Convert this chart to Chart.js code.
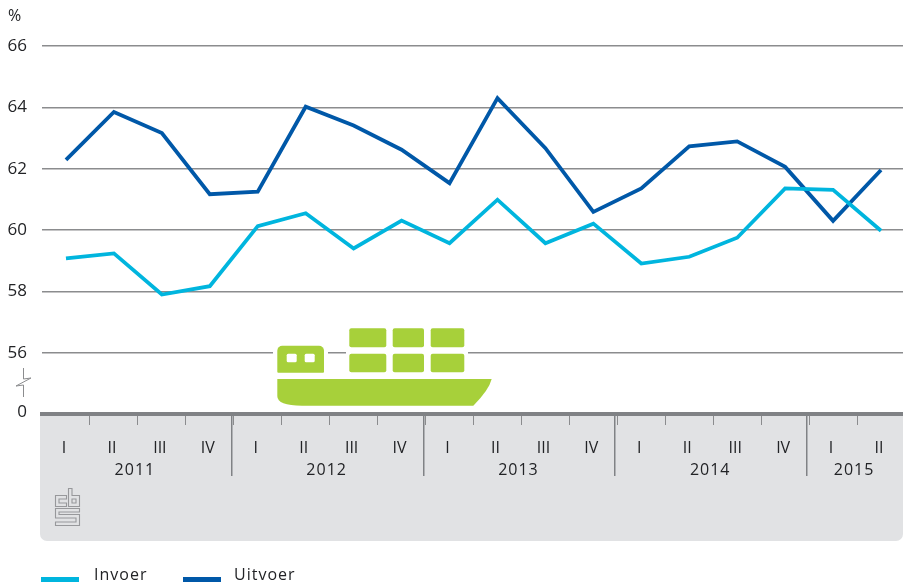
<!DOCTYPE html>
<html>
<head>
<meta charset="utf-8">
<title>Invoer en uitvoer</title>
<script src="https://cdn.jsdelivr.net/npm/chart.js@4"></script>
<style>
html, body { margin: 0; padding: 0; background: #fff; overflow: hidden; }
#wrap { position: relative; width: 905px; height: 582px; }
</style>
</head>
<body>
<div id="wrap"><canvas id="chart"></canvas></div>
<script>
const quarters = ['I','II','III','IV','I','II','III','IV','I','II','III','IV','I','II','III','IV','I','II'];
const years = ['2011','2012','2013','2014','2015'];
const quartersPerYear = [4,4,4,4,2];
const invoer = [59.08,59.24,57.90,58.17,60.13,60.55,59.40,60.31,59.57,60.99,59.57,60.21,58.91,59.13,59.75,61.36,61.31,59.98];
const uitvoer = [62.29,63.85,63.16,61.17,61.25,64.02,63.41,62.62,61.53,64.30,62.67,60.59,61.36,62.73,62.89,62.06,60.30,61.96];
const yTicks = [66,64,62,60,58,56];
const yFloor = 54.07; // value where the broken axis lands, shown as 0

const INK = '#222326', GRID = '#8b8c8e', BAND = '#e1e2e4', AXIS = '#808285', SHIP = '#a7d03a';
const FONT = '16px "Open Sans", sans-serif';

function roundBox(ctx, x0, y0, x1, y1, r) {
  ctx.beginPath();
  ctx.roundRect(x0, y0, x1 - x0, y1 - y0, r);
  ctx.fill();
}

function drawText(ctx, txt, x, y, align) {
  ctx.font = FONT;
  ctx.letterSpacing = '1px';
  ctx.fillStyle = INK;
  ctx.textAlign = align || 'left';
  ctx.textBaseline = 'middle';
  ctx.fillText(txt, x, y);
  ctx.letterSpacing = '0px';
}

function drawBand(ctx, chart) {
  ctx.save();
  ctx.fillStyle = BAND;
  ctx.beginPath();
  ctx.roundRect(40, 412, 863, 129, [0, 0, 7, 7]);
  ctx.fill();
  ctx.restore();
}

function drawAxis(ctx, chart) {
  const x = chart.scales.x;
  ctx.save();
  ctx.fillStyle = AXIS;
  ctx.fillRect(40, 412, 863, 4);
  // year separators and year names
  let start = 0;
  const half = (x.getPixelForValue(1) - x.getPixelForValue(0)) / 2;
  years.forEach(function(year, i) {
    const end = start + quartersPerYear[i] - 1;
    const mid = (x.getPixelForValue(start) + x.getPixelForValue(end)) / 2;
    drawText(ctx, year, mid - 3, 470, 'center');
    if (i < years.length - 1) {
      ctx.fillStyle = AXIS;
      ctx.fillRect(Math.round(x.getPixelForValue(end) + half) - 3, 416, 1.5, 60);
    }
    start = end + 1;
  });
  ctx.restore();
}

function drawBreak(ctx) {
  ctx.save();
  ctx.strokeStyle = GRID;
  ctx.lineWidth = 1;
  ctx.beginPath();
  ctx.moveTo(23.5, 368); ctx.lineTo(23.5, 379);
  ctx.lineTo(31, 378); ctx.lineTo(16, 386); ctx.lineTo(23.5, 385);
  ctx.lineTo(23.5, 397);
  ctx.stroke();
  ctx.restore();
}

function drawShip(ctx) {
  ctx.save();
  // white cut-outs over the 56 gridline
  ctx.fillStyle = '#fff';
  ctx.fillRect(273, 345, 55, 20);
  ctx.fillRect(346, 345, 122, 20);
  ctx.fillStyle = SHIP;
  roundBox(ctx, 277.3, 345.7, 324, 372.7, [5, 5, 1, 1]);
  [[349.3,386.3],[392.7,424],[430.7,464.3]].forEach(function(c) {
    roundBox(ctx, c[0], 328.3, c[1], 347.3, 2);
    roundBox(ctx, c[0], 353.7, c[1], 372.3, 2);
  });
  ctx.beginPath();
  ctx.moveTo(277.3, 379);
  ctx.lineTo(491.7, 379);
  ctx.quadraticCurveTo(489, 390, 473.3, 405.7);
  ctx.lineTo(302, 405.7);
  ctx.quadraticCurveTo(277.3, 405.7, 277.3, 396);
  ctx.closePath();
  ctx.fill();
  ctx.fillStyle = '#fff';
  roundBox(ctx, 286.7, 353.7, 296.7, 362.3, 1.5);
  roundBox(ctx, 304.7, 353.7, 314.7, 362.3, 1.5);
  ctx.restore();
}

function drawLogo(ctx) {
  ctx.save();
  ctx.translate(55, 488);
  ctx.strokeStyle = '#97989b';
  ctx.lineWidth = 1.1;
  ctx.lineJoin = 'miter';
  ctx.beginPath();
  // c
  ctx.moveTo(11.5, 7.5); ctx.lineTo(0.5, 7.5); ctx.lineTo(0.5, 18.5); ctx.lineTo(11.5, 18.5);
  ctx.lineTo(11.5, 15); ctx.lineTo(4, 15); ctx.lineTo(4, 11); ctx.lineTo(11.5, 11); ctx.closePath();
  // b
  ctx.moveTo(13.5, 0.5); ctx.lineTo(17, 0.5); ctx.lineTo(17, 7.5); ctx.lineTo(24.5, 7.5);
  ctx.lineTo(24.5, 18.5); ctx.lineTo(13.5, 18.5); ctx.closePath();
  ctx.rect(17, 11, 4, 4);
  // s
  ctx.moveTo(0.5, 20.5); ctx.lineTo(24.5, 20.5); ctx.lineTo(24.5, 24); ctx.lineTo(4, 24);
  ctx.lineTo(4, 26.5); ctx.lineTo(24.5, 26.5); ctx.lineTo(24.5, 37.5); ctx.lineTo(0.5, 37.5);
  ctx.lineTo(0.5, 34); ctx.lineTo(21, 34); ctx.lineTo(21, 30); ctx.lineTo(0.5, 30); ctx.closePath();
  ctx.stroke();
  ctx.restore();
}

function drawLegend(ctx, chart) {
  const spots = [{ box: 41, text: 94 }, { box: 183, text: 234 }];
  ctx.save();
  chart.data.datasets.forEach(function(ds, i) {
    ctx.fillStyle = ds.borderColor;
    ctx.fillRect(spots[i].box, 577, 38, 5);
    drawText(ctx, ds.label, spots[i].text, 575, 'left');
  });
  ctx.restore();
}

const decorations = {
  id: 'decorations',
  beforeDraw: function(chart) { drawBand(chart.ctx, chart); },
  beforeDatasetsDraw: function(chart) {
    const ctx = chart.ctx;
    drawBreak(ctx);
    drawAxis(ctx, chart);
    drawShip(ctx);
    drawLogo(ctx);
    drawLegend(ctx, chart);
    ctx.save();
    drawText(ctx, '%', 8, 16, 'left');
    ctx.restore();
  }
};

new Chart(document.getElementById('chart').getContext('2d'), {
  type: 'line',
  data: {
    labels: quarters,
    datasets: [
      { label: 'Invoer', data: invoer, borderColor: '#00b5de', borderWidth: 3.8, pointRadius: 0, tension: 0, borderJoinStyle: 'miter', borderCapStyle: 'butt' },
      { label: 'Uitvoer', data: uitvoer, borderColor: '#0058a8', borderWidth: 3.8, pointRadius: 0, tension: 0, borderJoinStyle: 'miter', borderCapStyle: 'butt' }
    ]
  },
  options: {
    responsive: true, maintainAspectRatio: false, animation: false,
    layout: { padding: { top: 46, left: 0, right: 0, bottom: 0 } },
    plugins: { legend: { display: false }, tooltip: { enabled: false } },
    scales: {
      x: {
        type: 'category',
        offset: true,
        afterFit: function(scale) { scale.height = 170; },
        border: { display: false },
        grid: {
          offset: true,
          drawOnChartArea: false,
          tickLength: 13,
          lineWidth: 1,
          color: function(ctx) { return ctx.index === 0 ? 'transparent' : GRID; }
        },
        ticks: {
          autoSkip: false, maxRotation: 0, minRotation: 0,
          labelOffset: -2, padding: 14,
          color: INK, font: { family: '"Open Sans", sans-serif', size: 16 }
        }
      },
      y: {
        min: yFloor, max: 66,
        afterFit: function(scale) { scale.width = 42; },
        afterBuildTicks: function(scale) {
          scale.ticks = yTicks.map(function(v) { return { value: v }; }).concat([{ value: yFloor }]);
        },
        border: { display: false },
        grid: {
          drawTicks: false,
          lineWidth: 1.4,
          color: function(ctx) { return ctx.tick && ctx.tick.value === yFloor ? 'transparent' : GRID; }
        },
        ticks: {
          padding: 15,
          color: INK, font: { family: '"Open Sans", sans-serif', size: 17 },
          callback: function(v) { return v === yFloor ? '0' : String(v); }
        }
      }
    }
  },
  plugins: [decorations]
});
</script>
</body>
</html>
